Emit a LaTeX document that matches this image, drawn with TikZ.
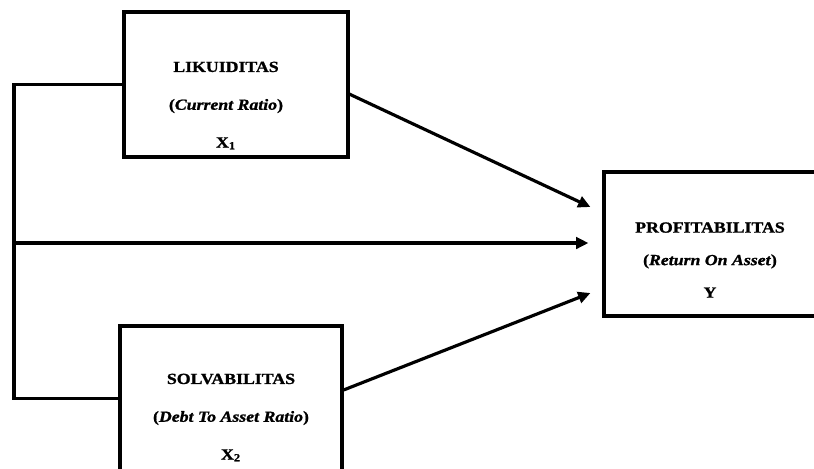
\documentclass[tikz,border=0pt]{standalone}
\usepackage{fontspec}
\setmainfont{Liberation Serif}
\newfontfamily\boxfont[FakeStretch=1.15,FakeBold=1.2]{Liberation Serif}
\usetikzlibrary{arrows.meta,positioning,calc}

\begin{document}
\begin{tikzpicture}[
    x=0.02cm, y=-0.02cm,
    >={Triangle[length=7pt,width=6.5pt]},
    var box/.style={draw, line width=1.8pt, minimum width=4.48cm, minimum height=2.9cm, inner sep=0pt},
    var text/.style={align=center, inner sep=0pt, font=\boxfont\bfseries\fontsize{8.8}{21.5}\selectfont},
    path line/.style={line width=1.8pt},
    path arrow/.style={->, line width=1.8pt},
]

% Page frame
\clip (0,0) rectangle (814,468);
\fill[white] (0,0) rectangle (814,468);

% Boxes
\node[var box] (x1) at (236,84.5) {};
\node[var box, minimum width=4.44cm] (x2) at (231,398.5) {};
\node[var box, minimum width=4.24cm, minimum height=2.88cm] (y) at (710,244) {};

% Box labels
\node[var text] (x1t) at (226,105.5) {LIKUIDITAS\\(\textit{Current Ratio})\\X\textsubscript{1}};
\node[var text] (x2t) at (231,417.5) {SOLVABILITAS\\(\textit{Debt To Asset Ratio})\\X\textsubscript{2}};
\node[var text, font=\boxfont\bfseries\fontsize{8.8}{18.5}\selectfont] (yt) at (710,260) {PROFITABILITAS\\(\textit{Return On Asset})\\Y};

% Connector ends
\coordinate (bus) at (14,243);
\coordinate (in1) at ([shift={(-12,-37)}]y.west);
\coordinate (in2) at ([shift={(-14,-1)}]y.west);
\coordinate (in3) at ([shift={(-12,49)}]y.west);

% Joint line
\draw[path line] (x1.west) -| (bus) |- (x2.west);

% Arrows
\draw[path arrow] ([yshift=-5.5]x1.east) -- (in1);
\draw[path arrow] (bus) -- (in2);
\draw[path arrow] ([shift={(0,-8.5)}]x2.east) -- (in3);

\end{tikzpicture}
\end{document}
